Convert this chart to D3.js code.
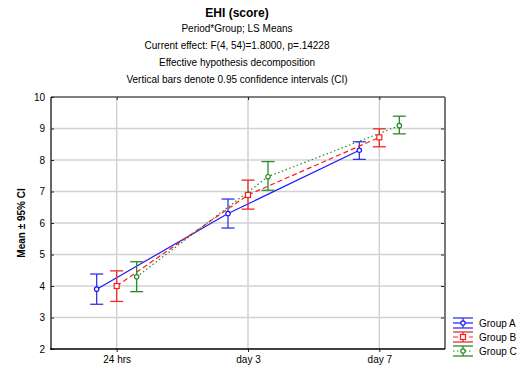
<!DOCTYPE html>
<html>
<head>
<meta charset="utf-8">
<script src="https://cdn.jsdelivr.net/npm/d3@7"></script>
<style>
body { margin: 0; background: #fff; }
svg text { font-family: Arial, "Liberation Sans", sans-serif; }
</style>
</head>
<body>
<svg id="chart" width="525" height="365"></svg>
<script>
var periods = ["24 hrs", "day 3", "day 7"];
var groups = ["Group A", "Group B", "Group C"];

// means and 95% CI bounds per group, one entry per period
var meanA = [3.90, 6.30, 8.31];
var lowA  = [3.42, 5.84, 8.02];
var highA = [4.38, 6.76, 8.58];

var meanB = [4.00, 6.89, 8.72];
var lowB  = [3.51, 6.44, 8.42];
var highB = [4.48, 7.36, 8.99];

var meanC = [4.29, 7.47, 9.09];
var lowC  = [3.82, 7.04, 8.83];
var highC = [4.77, 7.95, 9.39];

var yTicks = [2, 3, 4, 5, 6, 7, 8, 9, 10];

var titleLines = [
	"Period*Group; LS Means",
	"Current effect: F(4, 54)=1.8000, p=.14228",
	"Effective hypothesis decomposition",
	"Vertical bars denote 0.95 confidence intervals (CI)"
];

var series = [
	{ name: groups[0], mean: meanA, low: lowA, high: highA, color: "#1a1aff", bar: "#3333ee", dash: null, shape: "circle", off: -1 },
	{ name: groups[1], mean: meanB, low: lowB, high: highB, color: "#ff1a1a", bar: "#ee2a2a", dash: "5,3", shape: "square", off: 0 },
	{ name: groups[2], mean: meanC, low: lowC, high: highC, color: "#228b22", bar: "#2a8a2a", dash: "1.5,2.5", shape: "circle", off: 1 }
];

var plot = { left: 51, top: 97, right: 445, bottom: 349 };
var groupOffset = 20;
var capHalf = 6.5;

var svg = d3.select("#chart");

var xScale = d3.scalePoint()
	.domain(periods)
	.range([plot.left, plot.right])
	.padding(0.5);

var yScale = d3.scaleLinear()
	.domain([2, 10])
	.range([plot.bottom, plot.top]);

// Titles =========================================================
var cx = 237;
svg.append("text")
	.attr("x", cx).attr("y", 17)
	.attr("text-anchor", "middle")
	.attr("font-size", 12)
	.attr("font-weight", "bold")
	.text("EHI (score)");

svg.selectAll("text.sub")
	.data(titleLines)
	.enter().append("text")
	.attr("class", "sub")
	.attr("x", cx)
	.attr("y", function(d, i) { return 32 + i * 17; })
	.attr("text-anchor", "middle")
	.attr("font-size", 10)
	.text(function(d) { return d; });

// Grid ===========================================================
svg.append("g")
	.selectAll("line")
	.data(yTicks.slice(1, -1))
	.enter().append("line")
	.attr("x1", plot.left).attr("x2", plot.right)
	.attr("y1", function(d) { return yScale(d); })
	.attr("y2", function(d) { return yScale(d); })
	.attr("stroke", "#d2d2d2")
	.attr("stroke-width", 1.5);

svg.append("g")
	.selectAll("line")
	.data(periods)
	.enter().append("line")
	.attr("x1", function(d) { return xScale(d); })
	.attr("x2", function(d) { return xScale(d); })
	.attr("y1", plot.top).attr("y2", plot.bottom)
	.attr("stroke", "#d2d2d2")
	.attr("stroke-width", 1.5);

// Frame ==========================================================
svg.append("line").attr("x1", plot.left).attr("x2", plot.right).attr("y1", plot.top).attr("y2", plot.top)
	.attr("stroke", "#555").attr("stroke-width", 1.5);
svg.append("line").attr("x1", plot.right).attr("x2", plot.right).attr("y1", plot.top).attr("y2", plot.bottom)
	.attr("stroke", "#777").attr("stroke-width", 2);
svg.append("line").attr("x1", plot.left).attr("x2", plot.left).attr("y1", plot.top).attr("y2", plot.bottom)
	.attr("stroke", "#666").attr("stroke-width", 2);

// Axes ===========================================================
var yAxis = d3.axisLeft(yScale).tickValues(yTicks).tickSize(-3).tickPadding(6);
var yG = svg.append("g")
	.attr("transform", "translate(" + plot.left + ",0)")
	.call(yAxis);
yG.select(".domain").remove();
yG.selectAll(".tick line").attr("stroke", "#222");
yG.selectAll(".tick text").attr("font-size", 10).attr("fill", "#000").attr("font-family", "Arial, 'Liberation Sans', sans-serif");

var yRight = d3.axisRight(yScale).tickValues(yTicks.slice(1, -1)).tickSize(-3).tickFormat("");
var yrG = svg.append("g").attr("transform", "translate(" + (plot.right - 1) + ",0)").call(yRight);
yrG.select(".domain").remove();
yrG.selectAll(".tick line").attr("stroke", "#222");

var xTop = d3.axisTop(xScale).tickSize(-3).tickFormat("");
var xtG = svg.append("g").attr("transform", "translate(0," + plot.top + ")").call(xTop);
xtG.select(".domain").remove();
xtG.selectAll(".tick line").attr("stroke", "#222");

var xAxis = d3.axisBottom(xScale).tickSize(3).tickPadding(4);
var xG = svg.append("g")
	.attr("transform", "translate(0," + plot.bottom + ")")
	.call(xAxis);
xG.select(".domain").remove();
xG.selectAll(".tick line").attr("stroke", "#222");
xG.selectAll(".tick text").attr("font-size", 10).attr("fill", "#000").attr("font-family", "Arial, 'Liberation Sans', sans-serif");

svg.append("line").attr("x1", plot.left - 1).attr("x2", plot.right).attr("y1", plot.bottom).attr("y2", plot.bottom)
	.attr("stroke", "#000").attr("stroke-width", 1.5);

svg.append("text")
	.attr("transform", "translate(25," + ((plot.top + plot.bottom) / 2) + ") rotate(-90)")
	.attr("text-anchor", "middle")
	.attr("font-size", 10)
	.attr("font-weight", "bold")
	.text("Mean \u00b1 95% CI");

// Series =========================================================
function px(s, i) { return xScale(periods[i]) + s.off * groupOffset; }

series.forEach(function(s) {
	var g = svg.append("g");
	var line = d3.line()
		.x(function(d, i) { return px(s, i); })
		.y(function(d) { return yScale(d); });

	g.append("path")
		.datum(s.mean)
		.attr("d", line)
		.attr("fill", "none")
		.attr("stroke", s.color)
		.attr("stroke-width", 1.2)
		.attr("stroke-dasharray", s.dash);

	s.mean.forEach(function(m, i) {
		var x = px(s, i);
		g.append("line").attr("x1", x).attr("x2", x)
			.attr("y1", yScale(s.low[i])).attr("y2", yScale(s.high[i]))
			.attr("stroke", s.bar).attr("stroke-width", 1.3);
		[s.low[i], s.high[i]].forEach(function(v) {
			g.append("line").attr("x1", x - capHalf).attr("x2", x + capHalf)
				.attr("y1", yScale(v)).attr("y2", yScale(v))
				.attr("stroke", s.bar).attr("stroke-width", 1.3);
		});
		drawMarker(g, s, x, yScale(m));
	});
});

function drawMarker(g, s, x, y) {
	if (s.shape === "square") {
		g.append("rect").attr("x", x - 2.5).attr("y", y - 2.5).attr("width", 5).attr("height", 5)
			.attr("fill", "#fff").attr("stroke", s.color).attr("stroke-width", 1.2);
	} else {
		g.append("circle").attr("cx", x).attr("cy", y).attr("r", 2.2)
			.attr("fill", "#fff").attr("stroke", s.color).attr("stroke-width", 1.2);
	}
}

// Legend =========================================================
var leg = svg.append("g");
series.forEach(function(s, i) {
	var y = 323 + i * 14;
	var x0 = 453, x1 = 473, xm = 463;
	leg.append("line").attr("x1", x0).attr("x2", x1).attr("y1", y - 5).attr("y2", y - 5)
		.attr("stroke", s.bar).attr("stroke-width", 1.3);
	leg.append("line").attr("x1", x0).attr("x2", x1).attr("y1", y + 5).attr("y2", y + 5)
		.attr("stroke", s.bar).attr("stroke-width", 1.3);
	leg.append("line").attr("x1", xm).attr("x2", xm).attr("y1", y - 5).attr("y2", y + 5)
		.attr("stroke", s.bar).attr("stroke-width", 1.3);
	leg.append("line").attr("x1", x0).attr("x2", x1).attr("y1", y).attr("y2", y)
		.attr("stroke", s.color).attr("stroke-width", 1.2).attr("stroke-dasharray", s.dash);
	drawMarker(leg, s, xm, y);
	leg.append("text").attr("x", 479).attr("y", y + 3.5)
		.attr("font-size", 10)
		.text(s.name);
});
</script>
</body>
</html>
